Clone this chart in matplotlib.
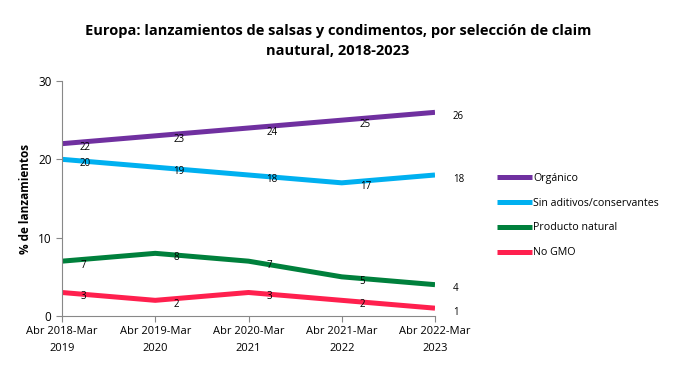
import matplotlib
matplotlib.use("Agg")
import matplotlib.pyplot as plt

categories = ["Abr 2018-Mar\n2019", "Abr 2019-Mar\n2020", "Abr 2020-Mar\n2021", "Abr 2021-Mar\n2022", "Abr 2022-Mar\n2023"]
organico = [22, 23, 24, 25, 26]
sin_aditivos = [20, 19, 18, 17, 18]
natural = [7, 8, 7, 5, 4]
no_gmo = [3, 2, 3, 2, 1]

series = [
    ("Orgánico", organico, "#7030A0"),
    ("Sin aditivos/conservantes", sin_aditivos, "#00B0F0"),
    ("Producto natural", natural, "#00803C"),
    ("No GMO", no_gmo, "#FF204E"),
]

plt.rcParams['font.family'] = ['Open Sans', 'DejaVu Sans']

fig = plt.figure(figsize=(6.77, 3.71), dpi=100)
ax = fig.add_axes([62/677, 1-316/371, (435-62)/677, (316-81)/371])

x = list(range(len(categories)))
for name, vals, col in series:
    ax.plot(x, vals, color=col, lw=3.6, label=name, solid_capstyle='butt')
    for xi, v in zip(x, vals):
        ax.annotate(str(v), (xi, v), xytext=(13, -3), textcoords='offset points',
                    fontsize=7, ha='left', va='center', color='black')

ax.set_xlim(0, 4)
ax.set_ylim(0, 30)
ax.set_yticks([0, 10, 20, 30])
ax.set_xticks(x)
ax.set_xticklabels(categories, fontsize=8, linespacing=1.7)
ax.tick_params(axis='y', labelsize=8.5, color='#888888', length=4)
ax.tick_params(axis='x', color='#888888', length=4)
for s in ['top', 'right']:
    ax.spines[s].set_visible(False)
for s in ['left', 'bottom']:
    ax.spines[s].set_color('#888888')
ax.set_ylabel("% de lanzamientos", fontsize=8.5, fontweight='bold', labelpad=4)

fig.text(338/677, 1-41/371, "Europa: lanzamientos de salsas y condimentos, por selección de claim\nnautural, 2018-2023",
         ha='center', va='center', fontsize=10.5, fontweight='bold', linespacing=1.5)

leg = fig.legend(loc='upper left', bbox_to_anchor=(487/677, 1-163/371), frameon=False,
                 fontsize=7.7, handlelength=3.3, handletextpad=0.1, labelspacing=1.3)

fig.savefig("out.png", dpi=100)
